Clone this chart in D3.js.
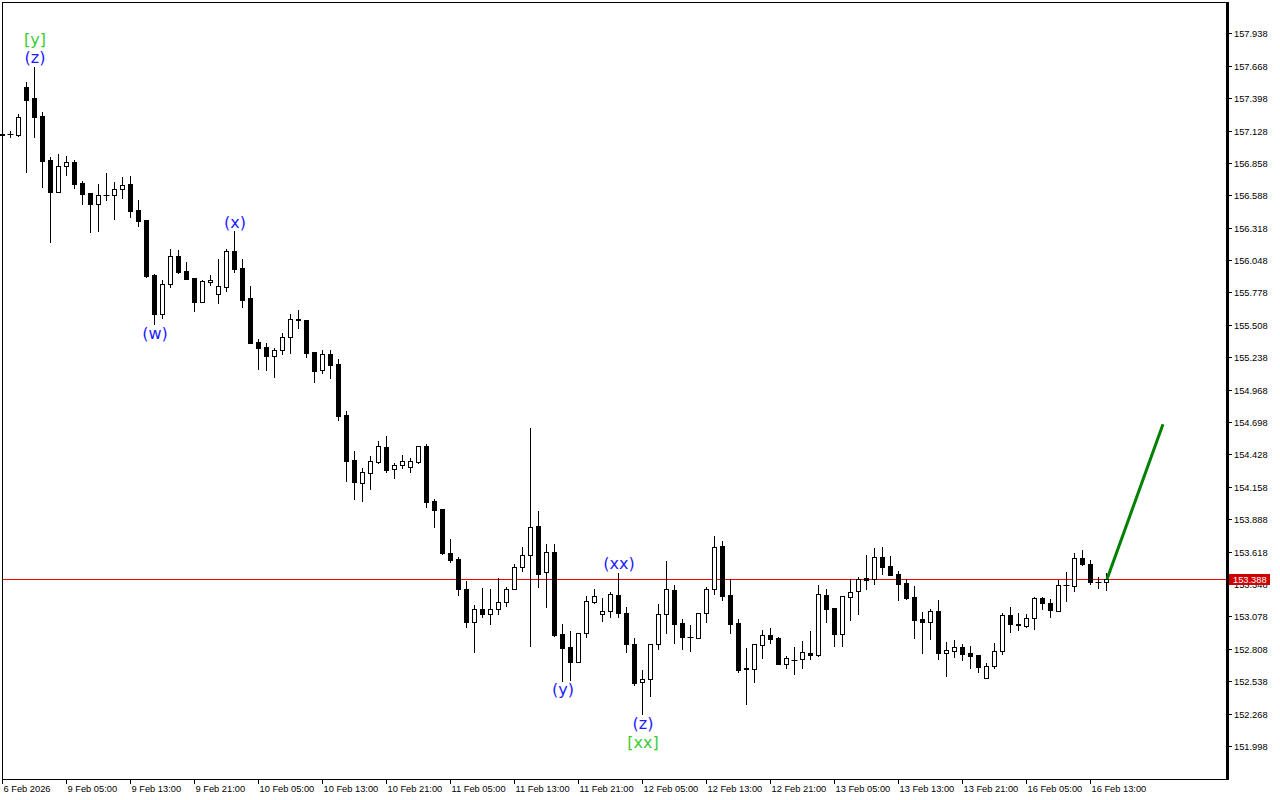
<!DOCTYPE html>
<html>
<head>
<meta charset="utf-8">
<script src="https://cdn.jsdelivr.net/npm/d3@7"></script>
<style>
  body { margin: 0; background: #fff; }
  svg { display: block; }
  .axis-text { font-family: "Liberation Sans", Arial, sans-serif; font-size: 9.3px; fill: #000; }
  .wave { font-family: "DejaVu Sans", Verdana, sans-serif; font-size: 16px; }
</style>
</head>
<body>
<svg id="chart"></svg>
<script>
// H1 candles, 6 Feb 2026 21:00 .. 16 Feb 2026 14:00
const open = [
  157.087,157.096,157.094,157.491,157.397,157.247,156.880,156.619,156.830,156.866,
  156.691,156.605,156.513,156.589,156.589,156.639,156.683,156.464,156.383,155.922,
  155.597,155.847,156.080,155.958,155.899,155.702,155.864,155.764,155.827,156.124,
  155.983,155.733,155.366,155.324,155.252,155.297,155.405,155.558,155.549,155.283,
  155.130,155.266,155.183,154.758,154.383,154.194,154.277,154.368,154.491,154.305,
  154.338,154.322,154.368,154.499,154.041,153.974,153.605,153.558,153.308,153.030,
  153.141,153.097,153.139,153.197,153.305,153.488,153.589,153.833,153.447,153.616,
  152.933,152.822,152.702,152.938,153.202,153.099,153.124,153.260,153.108,152.849,
  152.530,152.555,152.847,153.097,153.299,153.024,152.906,152.902,153.105,153.305,
  153.666,153.258,153.022,152.645,152.644,152.839,152.922,152.897,152.680,152.719,
  152.722,152.772,152.754,153.255,153.149,152.935,153.239,153.288,153.397,153.388,
  153.572,153.497,153.430,153.355,153.239,153.055,153.035,153.122,152.777,152.794,
  152.822,152.772,152.755,152.569,152.662,152.789,153.089,153.014,152.997,153.064,
  153.230,153.189,153.124,153.337,153.330,153.563,153.513,153.363,153.364
];
const high = [
  157.099,157.124,157.263,157.533,157.660,157.283,156.905,156.930,156.916,156.883,
  156.708,156.607,156.683,156.772,156.697,156.739,156.749,156.547,156.385,155.933,
  155.880,156.141,156.133,156.033,155.901,155.883,155.924,156.058,156.139,156.291,
  156.055,155.833,155.388,155.355,155.313,155.441,155.599,155.633,155.551,155.285,
  155.299,155.299,155.224,154.791,154.458,154.313,154.416,154.541,154.583,154.358,
  154.424,154.397,154.501,154.516,154.055,153.976,153.724,153.572,153.377,153.174,
  153.314,153.308,153.397,153.327,153.513,153.658,154.647,153.958,153.683,153.683,
  153.016,152.961,152.940,153.249,153.308,153.230,153.280,153.443,153.155,152.895,
  152.633,152.851,153.183,153.541,153.341,153.058,153.008,153.107,153.324,153.749,
  153.708,153.388,153.058,152.819,152.847,152.966,152.980,152.910,152.752,152.827,
  152.872,152.958,153.341,153.305,153.151,153.247,153.388,153.405,153.591,153.647,
  153.655,153.580,153.455,153.388,153.330,153.113,153.139,153.214,152.863,152.880,
  152.847,152.830,152.757,152.689,152.856,153.106,153.158,153.108,153.097,153.239,
  153.239,153.222,153.380,153.447,153.605,153.630,153.547,153.405,153.439
];
const low = [
  157.083,157.074,157.085,156.785,157.077,156.655,156.202,156.619,156.760,156.647,
  156.513,156.285,156.294,156.549,156.388,156.563,156.405,156.330,155.905,155.513,
  155.569,155.827,155.943,155.889,155.627,155.700,155.844,155.694,155.794,155.952,
  155.660,155.358,155.141,155.133,155.077,155.269,155.277,155.480,155.244,155.035,
  155.103,155.062,154.716,154.208,154.058,154.041,154.141,154.360,154.285,154.235,
  154.313,154.285,154.360,153.989,153.827,153.599,153.535,153.258,152.989,152.785,
  153.072,153.013,153.097,153.169,153.303,153.460,152.835,153.327,153.160,152.919,
  152.544,152.549,152.700,152.910,153.194,153.044,153.072,153.077,152.780,152.510,
  152.263,152.419,152.808,152.939,152.855,152.805,152.793,152.897,153.030,153.269,
  153.218,152.943,152.618,152.352,152.535,152.735,152.860,152.678,152.652,152.602,
  152.652,152.722,152.752,153.035,152.835,152.835,153.052,153.102,153.310,153.352,
  153.435,153.427,153.218,153.227,152.902,152.777,152.894,152.727,152.585,152.744,
  152.718,152.652,152.618,152.567,152.645,152.762,152.952,152.963,152.989,152.977,
  153.139,153.072,153.122,153.205,153.288,153.505,153.347,153.313,153.297
];
const close = [
  157.095,157.098,157.238,157.385,157.243,156.877,156.619,156.833,156.864,156.685,
  156.602,156.513,156.591,156.592,156.639,156.672,156.460,156.372,155.916,155.602,
  155.847,156.080,155.952,155.891,155.702,155.874,155.883,155.830,156.124,155.974,
  155.719,155.360,155.319,155.252,155.297,155.408,155.558,155.547,155.277,155.127,
  155.263,155.170,154.749,154.377,154.202,154.280,154.372,154.499,154.299,154.338,
  154.372,154.372,154.499,154.035,153.966,153.603,153.549,153.305,153.030,153.139,
  153.097,153.141,153.197,153.305,153.491,153.589,153.824,153.435,153.614,152.924,
  152.819,152.702,152.938,153.208,153.247,153.124,153.266,153.105,152.847,152.522,
  152.555,152.849,153.097,153.308,153.018,152.905,152.904,153.105,153.305,153.655,
  153.252,153.018,152.633,152.643,152.847,152.922,152.894,152.680,152.730,152.717,
  152.780,152.755,153.263,153.142,152.935,153.247,153.280,153.388,153.383,153.572,
  153.494,153.427,153.352,153.235,153.052,153.035,153.122,152.777,152.797,152.822,
  152.769,152.752,152.660,152.664,152.789,153.089,153.014,153.005,153.064,153.230,
  153.189,153.130,153.338,153.339,153.563,153.513,153.364,153.365,153.388
];

// price scale labels
const priceTicks = [
  157.938,157.668,157.398,157.128,156.858,156.588,156.318,156.048,155.778,155.508,
  155.238,154.968,154.698,154.428,154.158,153.888,153.618,153.348,153.078,152.808,
  152.538,152.268,151.998
];
// time labels, one every 8 bars
const timeLabels = [
  "6 Feb 2026","9 Feb 05:00","9 Feb 13:00","9 Feb 21:00","10 Feb 05:00","10 Feb 13:00",
  "10 Feb 21:00","11 Feb 05:00","11 Feb 13:00","11 Feb 21:00","12 Feb 05:00","12 Feb 13:00",
  "12 Feb 21:00","13 Feb 05:00","13 Feb 13:00","13 Feb 21:00","16 Feb 05:00","16 Feb 13:00"
];
const labelStep = 8;

const bidPrice = 153.388;

// projected move (bar index, price)
const projIdx = [138, 145];
const projPrice = [153.388, 154.680];

// wave marks: text, bar index, at high/low
const waveText = ["(z)", "[y]", "(w)", "(x)", "(y)", "(xx)", "(z)", "[xx]"];
const waveIdx = [4, 4, 19, 29, 70, 77, 80, 80];
const waveAt = ["high", "high", "low", "high", "low", "high", "low", "low"];

const W = 1280, H = 800;
const plot = { left: 2, right: 1226, top: 2, bottom: 779 };
const bidColor = "#d00000";

const svg = d3.select("#chart").attr("width", W).attr("height", H);
svg.append("rect").attr("width", W).attr("height", H).attr("fill", "#fff");

// scales
const x = d3.scaleLinear().domain([-0.06, 153.19]).range([2, 1228]);
const y = d3.scaleLinear().domain([151.998, 157.938]).range([746.1, 33.3]);
const px = (i) => Math.round(x(i)) + 0.5;
const py = (v) => Math.round(y(v)) + 0.5;

const bars = open.map((o, i) => ({ i, o, h: high[i], l: low[i], c: close[i] }));

const g = svg.append("g");

// bid line (1px filled strip)
g.append("rect")
  .attr("x", plot.left).attr("y", py(bidPrice) - 0.5)
  .attr("width", plot.right - plot.left).attr("height", 1)
  .attr("fill", "#ff0000");

// wicks
g.selectAll(".wick")
  .data(bars)
  .join("line")
  .attr("class", "wick")
  .attr("x1", (d) => px(d.i)).attr("x2", (d) => px(d.i))
  .attr("y1", (d) => py(d.h) - 0.5).attr("y2", (d) => py(d.l) + 0.5)
  .attr("stroke", "#000").attr("stroke-width", 1);

// bodies
bars.forEach((d) => {
  const top = py(Math.max(d.o, d.c));
  const bot = py(Math.min(d.o, d.c));
  const cx = px(d.i);
  if (bot - top < 1) {
    g.append("line")
      .attr("x1", cx - 3).attr("x2", cx + 3)
      .attr("y1", top).attr("y2", top)
      .attr("stroke", "#000");
  } else {
    g.append("rect")
      .attr("x", cx - 2).attr("y", top)
      .attr("width", 4).attr("height", bot - top)
      .attr("fill", d.c >= d.o ? "#fff" : "#000")
      .attr("stroke", "#000").attr("stroke-width", 1);
  }
});

// projection line
const proj = projIdx.map((k, j) => [x(k) + 0.5, y(projPrice[j])]);
g.append("path")
  .attr("d", d3.line()(proj))
  .attr("stroke", "#008000").attr("stroke-width", 3)
  .attr("fill", "none");

// wave labels, stacked away from the bar
const stack = {};
waveText.forEach((t, j) => {
  const k = waveIdx[j];
  const key = k + waveAt[j];
  const level = stack[key] || 0;
  stack[key] = level + 1;
  const bar = bars[k];
  const cy = waveAt[j] === "high"
    ? y(bar.h) - 9 - level * 18.5
    : y(bar.l) + 9 + level * 18.5;
  svg.append("text")
    .attr("class", "wave")
    .attr("x", x(k) + 0.5).attr("y", cy)
    .attr("dy", "0.36em")
    .attr("text-anchor", "middle")
    .attr("fill", t[0] === "[" ? "#3ccc33" : "#1c1cff")
    .text(t);
});

// frame
svg.append("rect")
  .attr("x", plot.left + 0.5).attr("y", plot.top + 0.5)
  .attr("width", plot.right - plot.left).attr("height", plot.bottom - plot.top)
  .attr("fill", "none").attr("stroke", "#000");
svg.append("line")
  .attr("x1", plot.right + 1.5).attr("x2", plot.right + 1.5)
  .attr("y1", plot.top).attr("y2", plot.bottom + 1)
  .attr("stroke", "#000").attr("stroke-width", 3);

// price axis
const pa = svg.append("g");
priceTicks.forEach((v) => {
  pa.append("line")
    .attr("x1", plot.right + 3).attr("x2", plot.right + 6)
    .attr("y1", py(v)).attr("y2", py(v))
    .attr("stroke", "#000");
  pa.append("text")
    .attr("class", "axis-text")
    .attr("x", plot.right + 8).attr("y", py(v))
    .attr("dy", "0.35em")
    .text(d3.format(".3f")(v));
});

// bid price tag
pa.append("rect")
  .attr("x", plot.right + 3).attr("y", py(bidPrice) - 5.5)
  .attr("width", 41).attr("height", 11)
  .attr("fill", bidColor);
pa.append("text")
  .attr("class", "axis-text")
  .attr("x", plot.right + 7).attr("y", py(bidPrice))
  .attr("dy", "0.35em")
  .style("fill", "#fff")
  .text(d3.format(".3f")(bidPrice));

// time axis
const ta = svg.append("g");
timeLabels.forEach((t, j) => {
  const tx = px(j * labelStep);
  ta.append("line")
    .attr("x1", tx).attr("x2", tx)
    .attr("y1", plot.bottom).attr("y2", plot.bottom + 5)
    .attr("stroke", "#000");
  ta.append("text")
    .attr("class", "axis-text")
    .attr("x", tx + 1).attr("y", 792)
    .text(t);
});
</script>
</body>
</html>
